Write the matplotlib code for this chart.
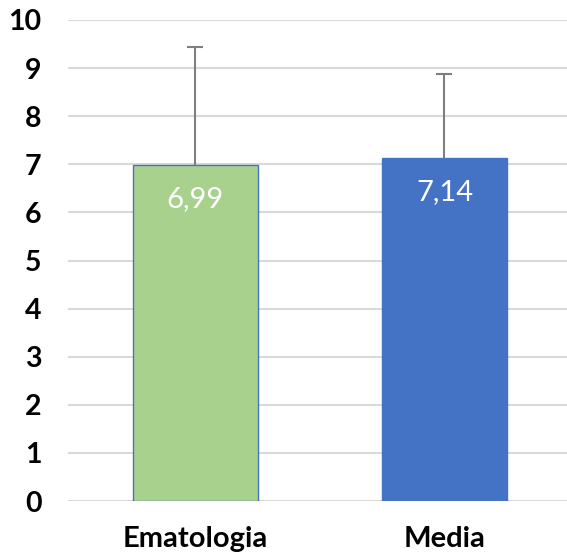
import matplotlib
matplotlib.use("Agg")
import matplotlib.pyplot as plt

categories = ["Ematologia", "Media"]
values = [6.99, 7.14]
errors_up = [2.44, 1.74]
labels = ["6,99", "7,14"]
colors = ["#A9D18E", "#4472C4"]
edges = ["#4472C4", "#4472C4"]

plt.rcParams['font.family'] = ['Lato', 'DejaVu Sans']

fig = plt.figure(figsize=(5.67, 5.59), dpi=100)
ax = fig.add_axes([68/567, 58/559, 499/567, 481/559])

x = list(range(len(categories)))
ax.bar(x, values, width=0.5, color=colors, edgecolor=edges, linewidth=1.0, zorder=2)
eb = ax.errorbar(x, values, yerr=[[0]*len(values), errors_up], fmt='none',
                 ecolor="#7F7F7F", elinewidth=1.5, capsize=5.5, capthick=1.5, zorder=3)
# hide the lower caps (only the upward error is drawn)
eb[1][0].set_visible(False)

for xi, v, lab in zip(x, values, labels):
    ax.annotate(lab, (xi, v), xytext=(0, -30.5), textcoords='offset points',
                ha='center', va='baseline', color='white', fontsize=21)

ax.set_xlim(-0.512, 1.492)
ax.set_ylim(0, 10)
ax.set_yticks(range(0, 11))
ax.set_xticks(x)
ax.set_xticklabels(categories, fontsize=21, fontweight='bold')
for t in ax.get_yticklabels():
    t.set_fontsize(20.5)
    t.set_fontweight('bold')
ax.tick_params(axis='both', length=0)
ax.tick_params(axis='y', pad=19)
ax.tick_params(axis='x', pad=18)

ax.yaxis.grid(True, color="#D9D9D9", linewidth=1.5, zorder=0)
ax.set_axisbelow(True)
for s in ax.spines.values():
    s.set_visible(False)

fig.savefig("out.png", dpi=100, facecolor='white')
